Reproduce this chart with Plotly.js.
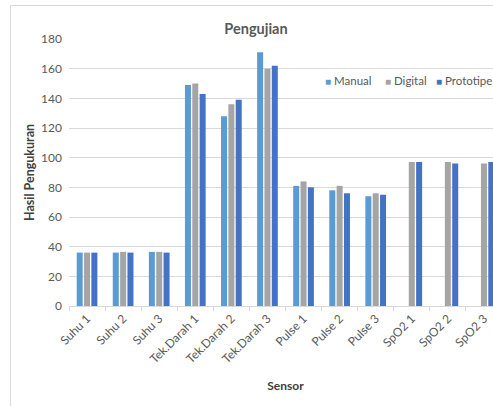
<!DOCTYPE html>
<html>
<head>
<meta charset="utf-8">
<script src="https://cdn.plot.ly/plotly-3.0.1.min.js"></script>
<style>
html, body { margin: 0; padding: 0; overflow: hidden; background: #fff; width: 493px; height: 406px; }
#frame { position: absolute; left: 10px; top: 5px; width: 600px; height: 500px; border-top: 1px solid #D9D9D9; border-left: 1px solid #D9D9D9; }
#chart { position: absolute; left: 0; top: 0; width: 520px; height: 406px; }
</style>
</head>
<body>
<div id="frame"></div>
<div id="chart"></div>
<script>
const categories = ["Suhu 1", "Suhu 2", "Suhu 3", "Tek.Darah 1", "Tek.Darah 2", "Tek.Darah 3", "Pulse 1", "Pulse 2", "Pulse 3", "SpO2 1", "SpO2 2", "SpO2 3"];
const manual    = [36, 36, 36.5, 149, 128, 171, 81, 78, 74, null, null, null];
const digital   = [36, 36.5, 36.5, 150, 136, 160, 84, 81, 76, 97, 97, 96];
const prototipe = [36, 36, 36, 143, 139, 162, 80, 76, 75, 97, 96, 97];
const seriesNames = ["Manual", "Digital", "Prototipe"];
const yTicks = [0, 20, 40, 60, 80, 100, 120, 140, 160, 180];

const colors = ["#5B9BD5", "#A5A5A5", "#4472C4"];
const seriesVals = [manual, digital, prototipe];
const traces = seriesVals.map((v, i) => ({
  type: "bar",
  name: seriesNames[i],
  x: categories,
  y: v,
  marker: { color: colors[i], line: { width: 0 } },
  hoverinfo: "skip",
  showlegend: false
}));

const W = 520, H = 406, L = 69, R = 18, T = 39, B = 100;
const font = "Lato, 'Open Sans', sans-serif";

// legend drawn as text entries (swatch glyph + name)
const legendX = [323, 383, 434];
const annotations = seriesNames.map((n, i) => ({
  xref: "paper", yref: "paper",
  x: (legendX[i] - L) / (W - L - R), xanchor: "left",
  y: (H - B - 80) / (H - T - B), yanchor: "middle",
  showarrow: false,
  text: `<span style="color:${colors[i]};font-size:10px">■</span> ${n}`,
  font: { family: font, size: 11.5, color: "#595959" }
}));

const layout = {
  width: W,
  height: H,
  margin: { l: L, r: R, t: T, b: B, autoexpand: false },
  paper_bgcolor: "rgba(0,0,0,0)",
  plot_bgcolor: "rgba(0,0,0,0)",
  font: { family: font, size: 12, color: "#595959" },
  title: {
    text: "<b>Pengujian</b>",
    x: 256 / W, xanchor: "center",
    y: 1 - 29 / H, yanchor: "middle",
    font: { family: font, size: 14.5, color: "#595959" }
  },
  barmode: "group",
  bargap: 0.39,
  bargroupgap: 0.18,
  showlegend: false,
  annotations: annotations,
  xaxis: {
    type: "category",
    tickangle: -45,
    tickson: "boundaries",
    ticks: "outside",
    ticklen: 4,
    tickcolor: "#D9D9D9",
    showline: true,
    linecolor: "#D9D9D9",
    linewidth: 1,
    showgrid: false,
    automargin: false,
    tickfont: { family: font, size: 12, color: "#595959" },
    title: { text: "<b>Sensor</b>", font: { family: font, size: 12, color: "#404040" }, standoff: 16 }
  },
  yaxis: {
    range: [0, 180],
    tickvals: yTicks,
    ticktext: yTicks.map(String),
    showgrid: true,
    gridcolor: "#D9D9D9",
    zeroline: false,
    showline: false,
    ticks: "",
    automargin: false,
    ticklabelstandoff: 6,
    tickfont: { family: font, size: 12, color: "#595959" },
    title: { text: "<b>Hasil Pengukuran</b>", font: { family: font, size: 12.5, color: "#404040" }, standoff: 3 }
  }
};

Plotly.newPlot("chart", traces, layout, { staticPlot: true, displayModeBar: false });
</script>
</body>
</html>
